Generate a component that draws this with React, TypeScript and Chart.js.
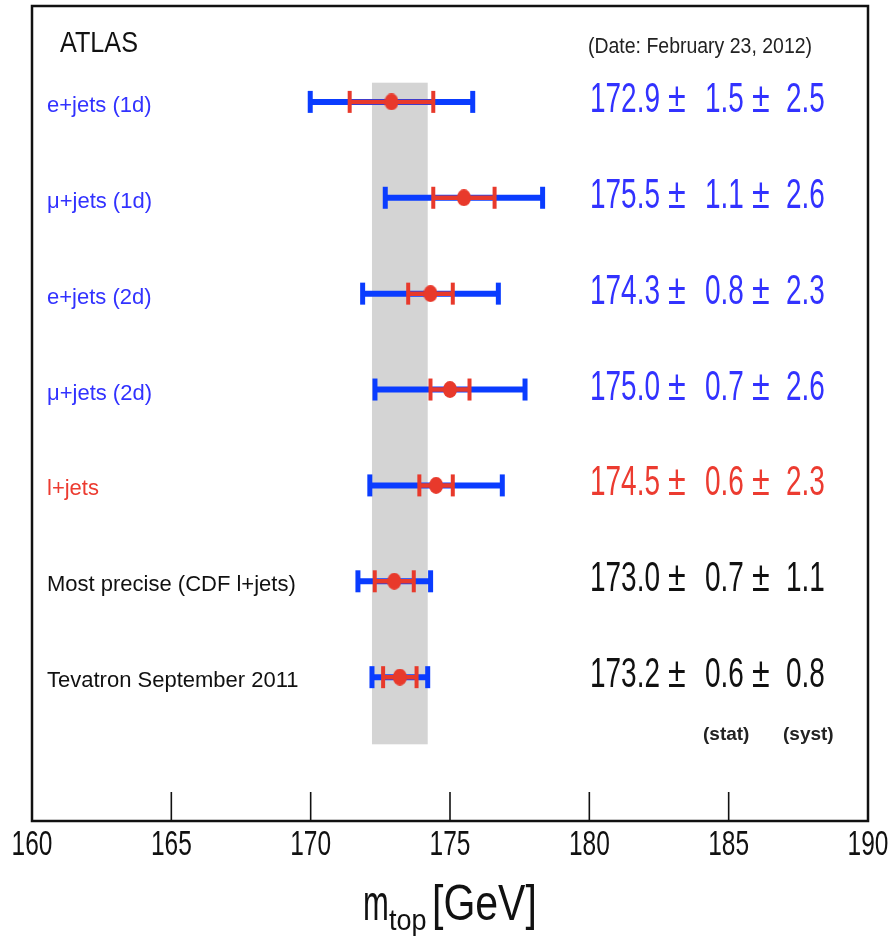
import React, { useEffect, useRef } from 'react';
import { Chart, registerables } from 'chart.js';

Chart.register(...registerables);

// ---------------- data ----------------
const measurementLabels = [
  'e+jets (1d)',
  'μ+jets (1d)',
  'e+jets (2d)',
  'μ+jets (2d)',
  'l+jets',
  'Most precise (CDF l+jets)',
  'Tevatron September 2011',
];
const measurementGroups = ['channel', 'channel', 'channel', 'channel', 'combined', 'reference', 'reference'];
const centralValues = [172.9, 175.5, 174.3, 175.0, 174.5, 173.0, 173.2];
const statErrors = [1.5, 1.1, 0.8, 0.7, 0.6, 0.7, 0.6];
const systErrors = [2.5, 2.6, 2.3, 2.6, 2.3, 1.1, 0.8];
const rowPositions = [1, 2, 3, 4, 5, 6, 7];
const bandReferenceIndex = 6; // Tevatron combination
const bandRowRange = [0.8, 7.7];
const xRange = [160, 190];
const xStep = 5;
const yRange = [0, 8.5];
const experimentLabel = 'ATLAS';
const dateLabel = '(Date: February 23, 2012)';
const statLabel = '(stat)';
const systLabel = '(syst)';

// ---------------- styles ----------------
const BLUE_BAR = '#0a3cff';
const RED_BAR = '#e8392b';
const GROUP_TEXT_COLOR: Record<string, string> = {
  channel: '#3232ff',
  combined: '#ec3b30',
  reference: '#111111',
};
const FONT = "'Liberation Sans', Arial, sans-serif";

const totalErrors = statErrors.map((s, i) => Math.sqrt(s * s + systErrors[i] * systErrors[i]));

function segmentData(halfWidths: number[]) {
  const out: { x: number | null; y: number | null }[] = [];
  centralValues.forEach((c, i) => {
    out.push({ x: c - halfWidths[i], y: rowPositions[i] });
    out.push({ x: c + halfWidths[i], y: rowPositions[i] });
    out.push({ x: null, y: null });
  });
  return out;
}

function makeEllipse(w: number, h: number, color: string) {
  const c = document.createElement('canvas');
  c.width = w;
  c.height = h;
  const g = c.getContext('2d')!;
  g.fillStyle = color;
  g.beginPath();
  g.ellipse(w / 2, h / 2, w / 2, h / 2, 0, 0, Math.PI * 2);
  g.fill();
  return c;
}

function drawText(
  ctx: CanvasRenderingContext2D,
  text: string,
  x: number,
  y: number,
  font: string,
  color: string,
  sx = 1,
  align: CanvasTextAlign = 'left'
) {
  ctx.save();
  ctx.font = font;
  ctx.fillStyle = color;
  ctx.textAlign = align;
  ctx.textBaseline = 'alphabetic';
  ctx.translate(x, y);
  ctx.scale(sx, 1);
  ctx.fillText(text, 0, 0);
  ctx.restore();
}

const overlayPlugin = {
  id: 'atlasOverlay',
  beforeDatasetsDraw(chart: any) {
    const { ctx, scales } = chart;
    const xs = scales.x;
    const ys = scales.y;
    const c = centralValues[bandReferenceIndex];
    const e = totalErrors[bandReferenceIndex];
    const x0 = xs.getPixelForValue(c - e);
    const x1 = xs.getPixelForValue(c + e);
    const y0 = ys.getPixelForValue(bandRowRange[0]);
    const y1 = ys.getPixelForValue(bandRowRange[1]);
    ctx.save();
    ctx.fillStyle = '#d4d4d4';
    ctx.fillRect(x0, y0, x1 - x0, y1 - y0);
    ctx.restore();
  },
  afterDraw(chart: any) {
    const { ctx, chartArea, scales } = chart;
    const xs = scales.x;
    const ys = scales.y;
    const { left, right, top, bottom } = chartArea;

    // inward tick marks + tick labels from the x scale
    ctx.save();
    ctx.strokeStyle = '#111';
    ctx.lineWidth = 1.6;
    xs.ticks.forEach((t: any) => {
      const px = xs.getPixelForValue(t.value);
      ctx.beginPath();
      ctx.moveTo(px, bottom);
      ctx.lineTo(px, bottom - 29);
      ctx.stroke();
      drawText(ctx, String(t.value), px, bottom + 34, `35px ${FONT}`, '#111', 0.7, 'center');
    });
    // frame
    ctx.lineWidth = 2.5;
    ctx.strokeRect(left, top, right - left, bottom - top);
    ctx.restore();

    // header texts
    drawText(ctx, experimentLabel, left + 28, top + 46, `30px ${FONT}`, '#111', 0.84);
    drawText(ctx, dateLabel, left + 556, top + 47, `22px ${FONT}`, '#222', 0.885);

    // row labels and values
    const valueFont = `43px ${FONT}`;
    measurementLabels.forEach((lab, i) => {
      const py = ys.getPixelForValue(rowPositions[i]);
      const col = GROUP_TEXT_COLOR[measurementGroups[i]];
      drawText(ctx, lab, left + 15, py + 10, `22px ${FONT}`, col, 1);
      drawText(ctx, centralValues[i].toFixed(1), left + 558, py + 10, valueFont, col, 0.65);
      drawText(ctx, '±', left + 636, py + 10, valueFont, col, 0.75);
      drawText(ctx, statErrors[i].toFixed(1), left + 673, py + 10, valueFont, col, 0.65);
      drawText(ctx, '±', left + 720, py + 10, valueFont, col, 0.75);
      drawText(ctx, systErrors[i].toFixed(1), left + 754, py + 10, valueFont, col, 0.65);
    });

    const lastY = ys.getPixelForValue(rowPositions[rowPositions.length - 1]);
    drawText(ctx, statLabel, left + 671, lastY + 63, `bold 19px ${FONT}`, '#222', 1);
    drawText(ctx, systLabel, left + 751, lastY + 63, `bold 19px ${FONT}`, '#222', 1);

    // axis title m_top [GeV]
    const cx = (left + right) / 2;
    drawText(ctx, 'm', cx - 87, bottom + 99, `50px ${FONT}`, '#111', 0.62);
    drawText(ctx, 'top', cx - 61, bottom + 109, `30px ${FONT}`, '#111', 0.9);
    drawText(ctx, '[GeV]', cx - 18, bottom + 99, `50px ${FONT}`, '#111', 0.82);
  },
};

export default function App() {
  const canvasRef = useRef<HTMLCanvasElement | null>(null);

  useEffect(() => {
    document.body.style.margin = '0';
    const canvas = canvasRef.current;
    if (!canvas) return;
    const marker = makeEllipse(14, 17, RED_BAR);

    const chart = new Chart(canvas, {
      type: 'scatter',
      data: {
        datasets: [
          {
            label: 'total',
            data: segmentData(totalErrors),
            showLine: true,
            spanGaps: false,
            borderColor: BLUE_BAR,
            borderWidth: 6,
            borderCapStyle: 'butt',
            pointStyle: 'line',
            pointRotation: 90,
            pointRadius: 11,
            pointBorderWidth: 5,
            pointBorderColor: BLUE_BAR,
            pointBackgroundColor: BLUE_BAR,
            order: 3,
          } as any,
          {
            label: 'stat',
            data: segmentData(statErrors),
            showLine: true,
            spanGaps: false,
            borderColor: RED_BAR,
            borderWidth: 4.5,
            borderCapStyle: 'butt',
            pointStyle: 'line',
            pointRotation: 90,
            pointRadius: 11,
            pointBorderWidth: 4,
            pointBorderColor: RED_BAR,
            pointBackgroundColor: RED_BAR,
            order: 2,
          } as any,
          {
            label: 'central',
            data: centralValues.map((c, i) => ({ x: c, y: rowPositions[i] })),
            pointStyle: marker,
            pointRadius: 8,
            order: 1,
          } as any,
        ],
      },
      options: {
        responsive: false,
        animation: false,
        devicePixelRatio: 1,
        layout: { autoPadding: false, padding: { left: 32, right: 23, top: 6, bottom: 0 } },
        plugins: {
          legend: { display: false },
          tooltip: { enabled: false },
        },
        scales: {
          x: {
            type: 'linear',
            min: xRange[0],
            max: xRange[1],
            afterFit: (scale: any) => {
              scale.height = 119;
            },
            ticks: {
              stepSize: xStep,
              display: false,
            },
            grid: { display: false },
            border: { display: false },
          },
          y: {
            type: 'linear',
            display: false,
            reverse: true,
            min: yRange[0],
            max: yRange[1],
          },
        },
      } as any,
      plugins: [overlayPlugin],
    });

    return () => chart.destroy();
  }, []);

  return (
    <div style={{ width: 891, height: 940, background: '#fff' }}>
      <canvas ref={canvasRef} width={891} height={940} style={{ width: '891px', height: '940px', display: 'block' }} />
    </div>
  );
}
